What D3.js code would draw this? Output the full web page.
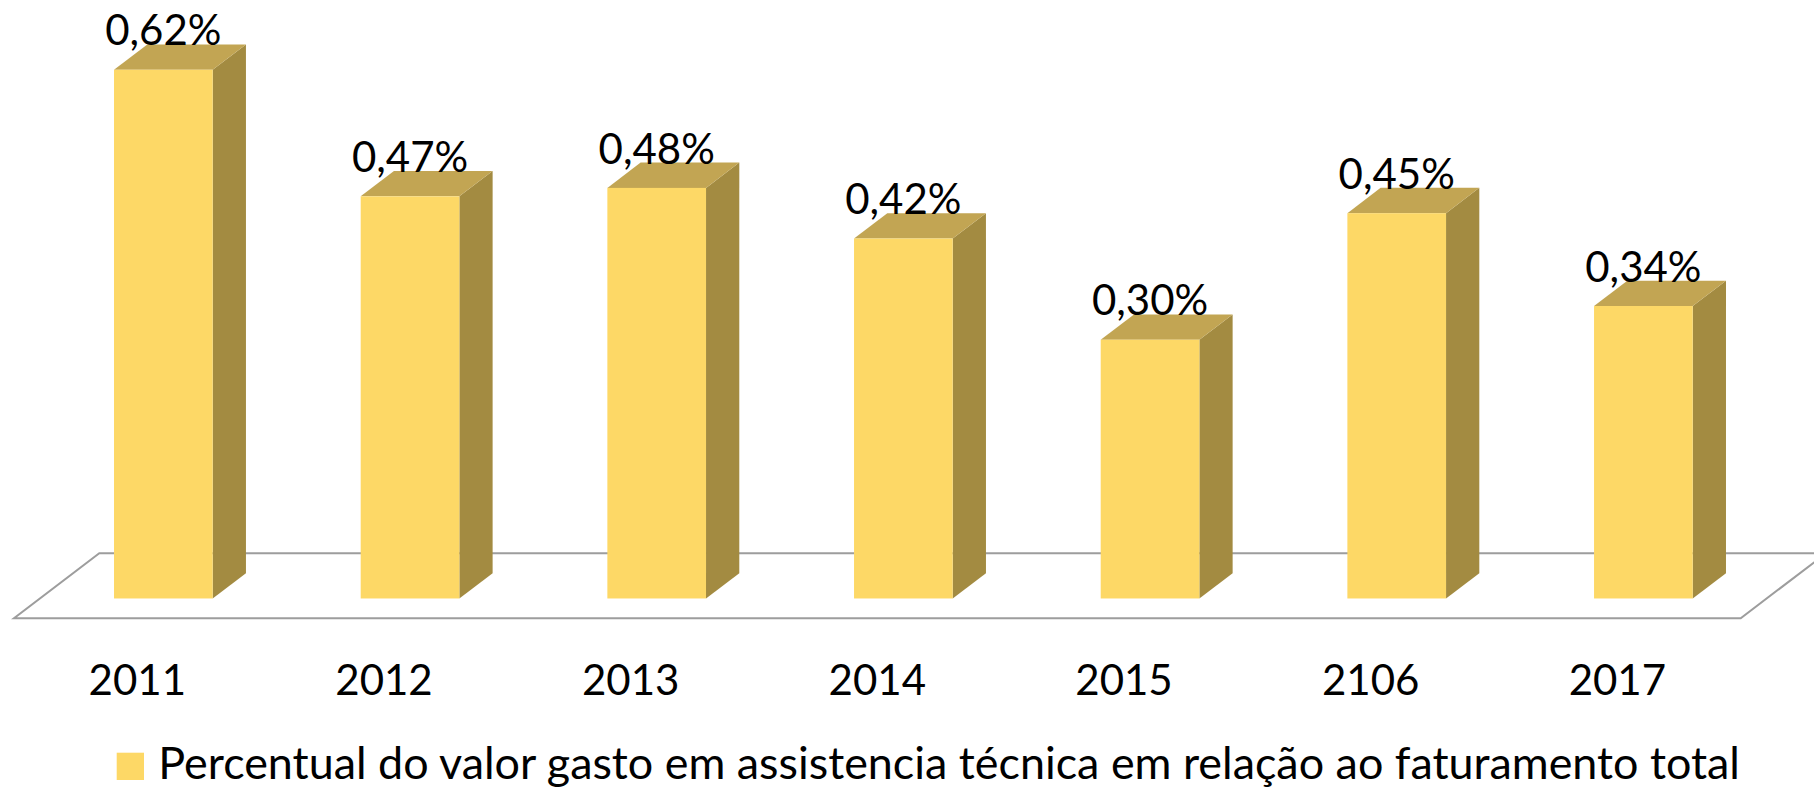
<!DOCTYPE html>
<html>
<head>
<meta charset="utf-8">
<script src="https://cdn.jsdelivr.net/npm/d3@7"></script>
<style>
  html, body { margin: 0; padding: 0; background: #fff; }
  svg { display: block; }
  text { font-family: Lato, "Open Sans", sans-serif; fill: #000; }
</style>
</head>
<body>
<svg id="chart" width="1814" height="789"></svg>
<script>
// dados
const categories = ['2011', '2012', '2013', '2014', '2015', '2106', '2017']
const values = [0.62, 0.47, 0.48, 0.42, 0.30, 0.45, 0.34]
const seriesName = 'Percentual do valor gasto em assistencia técnica em relação ao faturamento total'

const W = 1814, H = 789
const svg = d3.select('#chart')

// piso em perspectiva (frente -> fundo)
const floorFront = { x0: 14, x1: 1740.7, y: 618.3 }
const depth = { dx: 85.3, dy: -65 }
const barFront = 0.305, barBack = 0.695 // fração da profundidade ocupada pela barra

const colors = { front: '#FDD866', top: '#C2A553', side: '#A38B41', floor: '#9d9d9d' }

const x = d3.scaleBand()
  .domain(categories)
  .range([floorFront.x0, floorFront.x1])
  .paddingInner(0)
  .paddingOuter(0)

const barW = x.bandwidth() * 0.4

// altura da barra (o Excel 3D deixa um pequeno deslocamento na base)
const y = d3.scaleLinear()
  .domain([0, 0.7])
  .range([5.6, 596.2])

const fmt = d3.formatLocale({ decimal: ',', thousands: '.', grouping: [3], currency: ['R$', ''] }).format('.2f')

// piso
const fx0 = floorFront.x0, fx1 = floorFront.x1, fy = floorFront.y
svg.append('path')
  .attr('d', 'M' + fx0 + ',' + fy + 'L' + fx1 + ',' + fy +
    'L' + (fx1 + depth.dx) + ',' + (fy + depth.dy) +
    'L' + (fx0 + depth.dx) + ',' + (fy + depth.dy) + 'Z')
  .attr('fill', 'none')
  .attr('stroke', colors.floor)
  .attr('stroke-width', 2)

// barras 3D
const bars = svg.append('g').attr('id', 'barsG')
  .selectAll('g')
  .data(categories.map((c, i) => ({ cat: c, value: values[i] })))
  .enter()
  .append('g')

function geom(d) {
  const cx = x(d.cat) + x.bandwidth() / 2
  const left = cx - barW / 2 + depth.dx * barFront
  const bottom = fy + depth.dy * barFront
  const h = y(d.value)
  const ddx = depth.dx * (barBack - barFront), ddy = depth.dy * (barBack - barFront)
  return { left, right: left + barW, bottom, top: bottom - h, h, ddx, ddy }
}

bars.append('path') // lado
  .attr('fill', colors.side)
  .attr('d', (d) => {
    const g = geom(d)
    return 'M' + g.right + ',' + g.bottom + 'L' + (g.right + g.ddx) + ',' + (g.bottom + g.ddy) +
      'L' + (g.right + g.ddx) + ',' + (g.top + g.ddy) + 'L' + g.right + ',' + g.top + 'Z'
  })

bars.append('path') // topo
  .attr('fill', colors.top)
  .attr('d', (d) => {
    const g = geom(d)
    return 'M' + g.left + ',' + g.top + 'L' + g.right + ',' + g.top +
      'L' + (g.right + g.ddx) + ',' + (g.top + g.ddy) + 'L' + (g.left + g.ddx) + ',' + (g.top + g.ddy) + 'Z'
  })

bars.append('rect') // frente
  .attr('fill', colors.front)
  .attr('x', (d) => geom(d).left)
  .attr('y', (d) => geom(d).top)
  .attr('width', barW)
  .attr('height', (d) => geom(d).h)

// rótulos de valor
bars.append('text')
  .attr('x', (d) => geom(d).left + barW / 2)
  .attr('y', (d) => { const g = geom(d); return g.top + g.ddy + 1 })
  .attr('text-anchor', 'middle')
  .attr('font-size', 42)
  .text((d) => fmt(d.value) + '%')

// eixo de categorias (na borda frontal do piso)
svg.append('g').attr('id', 'axisG')
  .selectAll('text')
  .data(categories)
  .enter()
  .append('text')
  .attr('x', (d) => x(d) + x.bandwidth() / 2)
  .attr('y', 695)
  .attr('text-anchor', 'middle')
  .attr('font-size', 42)
  .text((d) => d)

// legenda
const legendG = svg.append('g').attr('id', 'legendG')
legendG.append('rect')
  .attr('x', 116.7).attr('y', 752.7)
  .attr('width', 27.3).attr('height', 27.3)
  .attr('fill', colors.front)
const lt = legendG.append('text')
  .attr('x', 158.3)
  .attr('y', 779)
  .attr('font-size', 42)
  .text(seriesName)
// ajusta o tamanho para ocupar a mesma largura do original
const target = 1740 - 158.3
const len = lt.node().getComputedTextLength()
lt.attr('font-size', 42 * target / len)
</script>
</body>
</html>
